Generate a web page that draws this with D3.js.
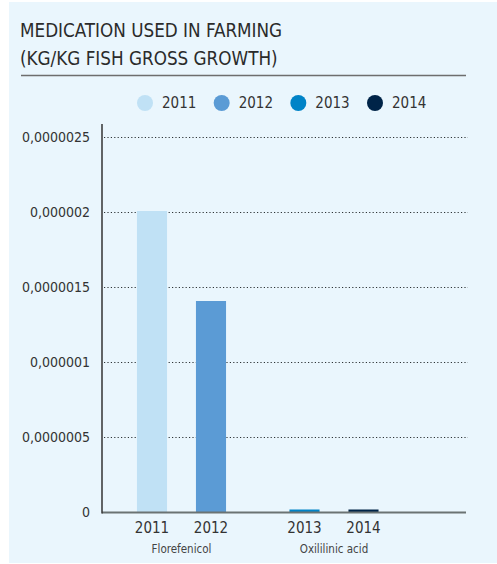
<!DOCTYPE html>
<html>
<head>
<meta charset="utf-8">
<script src="https://cdn.jsdelivr.net/npm/d3@7"></script>
<style>
  html, body { margin: 0; padding: 0; background: #ffffff; }
  svg { display: block; }
  text { font-family: "Liberation Sans Narrow", "DejaVu Sans Condensed", "Roboto", sans-serif; }
</style>
</head>
<body>
<script>
// Medication used in farming, kg per kg of fish gross growth
const groups = ["Florefenicol", "Oxililinic acid"];
const years = ["2011", "2012", "2013", "2014"];
const yearGroup = ["Florefenicol", "Florefenicol", "Oxililinic acid", "Oxililinic acid"];
const values = [0.000002, 0.0000014, 0.00000001, 0.00000001];
const yearColors = ["#c0e1f5", "#5b9bd5", "#0083c7", "#002448"];
const tickValues = [0, 0.0000005, 0.000001, 0.0000015, 0.000002, 0.0000025];
const tickLabels = ["0", "0,0000005", "0,000001", "0,0000015", "0,000002", "0,0000025"];

const W = 497, H = 564;
const svg = d3.select("body").append("svg").attr("width", W).attr("height", H);

// panel background
svg.append("rect").attr("x", 9).attr("y", 2).attr("width", W - 9).attr("height", 561)
  .attr("fill", "#eaf6fd");

// title
const title = svg.append("text").attr("x", 20).attr("fill", "#2b2b2b")
  .attr("font-size", 18.7);
title.append("tspan").attr("x", 20).attr("y", 37).text("MEDICATION USED IN FARMING");
title.append("tspan").attr("x", 20).attr("y", 65).text("(KG/KG FISH GROSS GROWTH)");

svg.append("line").attr("x1", 21).attr("x2", 466).attr("y1", 75.5).attr("y2", 75.5)
  .attr("stroke", "#6e6e6e").attr("stroke-width", 1.5);

// legend
const legendX = d3.scalePoint().domain(years).range([145, 375]);
const lg = svg.append("g").selectAll("g").data(years).join("g")
  .attr("transform", d => `translate(${legendX(d)},103)`);
lg.append("circle").attr("r", 8).attr("fill", (d, i) => yearColors[i]);
lg.append("text").attr("x", 17).attr("dy", "0.36em").attr("font-size", 15)
  .attr("fill", "#333").text(d => d);

// scales
const y = d3.scaleLinear().domain([0, 0.0000025]).range([512, 137]);
const xGroup = d3.scaleBand().domain(groups).range([105.25, 410.25]);
const xYear = d3.scaleBand().domain([0, 1]).range([0, xGroup.bandwidth()])
  .paddingInner(0.49).paddingOuter(0.5375);
const slot = years.map((yr, i) => yearGroup.slice(0, i).filter(g => g === yearGroup[i]).length);
const barX = i => xGroup(yearGroup[i]) + xYear(slot[i]);

const left = 102, right = 468;

// dotted gridlines
svg.append("g").selectAll("line").data(tickValues.filter(v => v > 0)).join("line")
  .attr("x1", left + 2).attr("x2", right)
  .attr("y1", d => Math.round(y(d)) + 0.5).attr("y2", d => Math.round(y(d)) + 0.5)
  .attr("stroke", "#2e3436").attr("stroke-width", 1.2).attr("stroke-dasharray", "1.2,2.2");

// tick labels
svg.append("g").selectAll("text").data(tickValues).join("text")
  .attr("x", 90).attr("y", d => y(d)).attr("dy", "0.35em").attr("text-anchor", "end")
  .attr("font-size", 14).attr("fill", "#333").text((d, i) => tickLabels[i]);

// bars
svg.append("g").selectAll("rect").data(values).join("rect")
  .attr("x", (d, i) => barX(i)).attr("width", xYear.bandwidth())
  .attr("y", d => y(d) - 1).attr("height", d => y(0) - y(d) + 1)
  .attr("fill", (d, i) => yearColors[i]);

// axes lines
svg.append("line").attr("x1", left).attr("x2", 466).attr("y1", 512.5).attr("y2", 512.5)
  .attr("stroke", "#6b7373").attr("stroke-width", 1.8);
svg.append("line").attr("x1", left).attr("x2", left).attr("y1", 124).attr("y2", 513.5)
  .attr("stroke", "#333").attr("stroke-width", 1.5);

// year labels
svg.append("g").selectAll("text").data(years).join("text")
  .attr("x", (d, i) => barX(i) + xYear.bandwidth() / 2).attr("y", 533)
  .attr("text-anchor", "middle").attr("font-size", 15).attr("fill", "#333").text(d => d);

// group labels
svg.append("g").selectAll("text").data(groups).join("text")
  .attr("x", d => xGroup(d) + xGroup.bandwidth() / 2).attr("y", 553)
  .attr("text-anchor", "middle").attr("font-size", 11.5).attr("fill", "#444").text(d => d);
</script>
</body>
</html>
